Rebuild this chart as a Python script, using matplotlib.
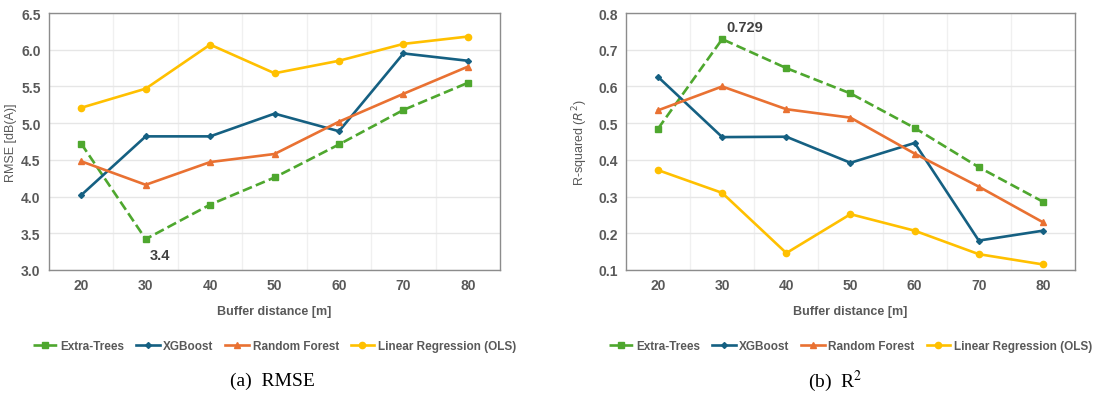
import numpy as np
import matplotlib.pyplot as plt
from matplotlib.ticker import MultipleLocator, FixedLocator

# data
buffers = [20, 30, 40, 50, 60, 70, 80]
models = ['Extra-Trees', 'XGBoost', 'Random Forest', 'Linear Regression (OLS)']

rmse_et = [4.72, 3.42, 3.89, 4.26, 4.71, 5.18, 5.55]
rmse_xgb = [4.02, 4.82, 4.82, 5.13, 4.89, 5.95, 5.85]
rmse_rf = [4.48, 4.16, 4.47, 4.58, 5.02, 5.40, 5.77]
rmse_ols = [5.21, 5.47, 6.07, 5.68, 5.85, 6.08, 6.18]

r2_et = [0.485, 0.729, 0.650, 0.581, 0.487, 0.380, 0.286]
r2_xgb = [0.626, 0.462, 0.463, 0.392, 0.446, 0.180, 0.207]
r2_rf = [0.535, 0.600, 0.538, 0.515, 0.417, 0.327, 0.230]
r2_ols = [0.372, 0.310, 0.146, 0.252, 0.207, 0.143, 0.115]

colors = ['#4EA72E', '#156082', '#E97132', '#FFC000']
markers = ['s', 'D', '^', 'o']
msizes = [4.5, 3, 4.5, 4.5]
styles = ['--', '-', '-', '-']

plt.rcParams['font.family'] = ['Liberation Sans', 'DejaVu Sans']
tcol = '#595959'

fig = plt.figure(figsize=(11.17, 4.02), dpi=100)
ax1 = fig.add_axes([0.0439, 0.326, 0.4038, 0.639])
ax2 = fig.add_axes([0.5604, 0.326, 0.402, 0.639])

x = np.arange(len(buffers))


def draw(ax, series, ylim, ystep, ylabel):
    for vals, name, c, m, ms, ls in zip(series, models, colors, markers, msizes, styles):
        ax.plot(x, vals, color=c, marker=m, markersize=ms, linestyle=ls,
                linewidth=1.9, label=name)
    ax.set_xlim(-0.5, len(buffers) - 0.5)
    ax.set_ylim(*ylim)
    ax.yaxis.set_major_locator(MultipleLocator(ystep))
    ax.yaxis.set_major_formatter(plt.FormatStrFormatter('%.1f'))
    ax.set_xticks(x)
    ax.set_xticklabels([str(b) for b in buffers])
    ax.xaxis.set_minor_locator(FixedLocator(np.arange(0.5, len(buffers) - 1, 1)))
    ax.grid(True, which='major', axis='y', color='#e6e6e6', linewidth=1)
    ax.grid(True, which='minor', axis='x', color='#f0f0f0', linewidth=1)
    ax.set_axisbelow(True)
    ax.tick_params(which='both', length=0, labelsize=10, colors=tcol, pad=6)
    for lab in ax.get_xticklabels() + ax.get_yticklabels():
        lab.set_fontweight('bold')
    for sp in ax.spines.values():
        sp.set_color('#8c8c8c')
        sp.set_linewidth(1)
    ax.set_xlabel('Buffer distance [m]', fontsize=9, color=tcol, labelpad=9,
                  fontweight='bold')
    ax.set_ylabel(ylabel, fontsize=9, color=tcol)
    ax.yaxis.set_label_coords(-0.07, 0.5)
    ax.legend(loc='upper center', bbox_to_anchor=(0.5, -0.232), ncol=4,
              frameon=False, labelcolor=tcol, handlelength=2.0,
              columnspacing=1.0, handletextpad=0.3,
              prop={'weight': 'bold', 'size': 8.5})


draw(ax1, [rmse_et, rmse_xgb, rmse_rf, rmse_ols], (3.0, 6.5), 0.5, 'RMSE [dB(A)]')
draw(ax2, [r2_et, r2_xgb, r2_rf, r2_ols], (0.1, 0.8), 0.1, 'R-squared ($R^2$)')
ax2.yaxis.set_label_coords(-0.08, 0.5)

ax1.annotate('3.4', (1, rmse_et[1]), xytext=(3, -14), textcoords='offset points',
             fontsize=10.5, fontweight='bold', color='#404040')
ax2.annotate('0.729', (1, r2_et[1]), xytext=(3, 6), textcoords='offset points',
             fontsize=10.5, fontweight='bold', color='#404040')

fig.text(0.2435, 0.052, '(a)  RMSE', family='Liberation Serif', fontsize=14,
         ha='center', va='center')
fig.text(0.748, 0.052, '(b)  R$^{2}$', family='Liberation Serif', fontsize=14,
         ha='center', va='center', math_fontfamily='stix')

fig.savefig('out.png', dpi=100)
